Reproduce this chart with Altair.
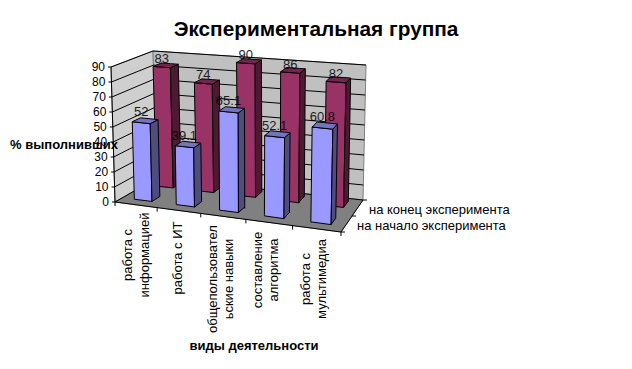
import altair as alt
import pandas as pd

# ---- data ----
title_text = "Экспериментальная группа"
start_values = [52, 39.1, 65.1, 52.1, 60.8]
end_values = [83, 74, 90, 86, 82]
start_labels = ["52", "39.1", "65.1", "52.1", "60.8"]
end_labels = ["83", "74", "90", "86", "82"]
y_ticks = [0, 10, 20, 30, 40, 50, 60, 70, 80, 90]
category_lines = [
    ["работа с", "информацией"],
    ["работа с ИТ"],
    ["общепользовател", "ьские навыки"],
    ["составление", "алгоритма"],
    ["работа с", "мультимедиа"],
]
series_names = ["на начало эксперимента", "на конец эксперимента"]
y_title = "% выполнивших"
x_title = "виды деятельности"

# ---- 3D box calibration (screen pixels) ----
F0, F1, B0, B1 = (115, 202), (341, 232), (157, 178), (363, 200)
F0t, F1t, B0t, B1t = (111, 67), (344, 89), (153, 51), (366, 65)
VMAX = 90.0
PERSP = 1.09


def lerp(a, b, t):
    return (a[0] + (b[0] - a[0]) * t, a[1] + (b[1] - a[1]) * t)


def P(u, d, v):
    u = u / (PERSP + (1 - PERSP) * u)
    bottom = lerp(lerp(F0, F1, u), lerp(B0, B1, u), d)
    top = lerp(lerp(F0t, F1t, u), lerp(B0t, B1t, u), d)
    return lerp(bottom, top, v / VMAX)


def poly_rows(pid, pts, fill):
    """Convex polygon -> area rows (x, y, y2), sorted by x."""
    xs = sorted({round(p[0], 2) for p in pts})
    n = len(pts)
    rows = []
    for x in xs:
        ys = []
        for i in range(n):
            a, b = pts[i], pts[(i + 1) % n]
            lo, hi = min(a[0], b[0]), max(a[0], b[0])
            if lo - 0.011 <= x <= hi + 0.011:
                if abs(b[0] - a[0]) < 1e-6:
                    ys += [a[1], b[1]]
                else:
                    ys.append(a[1] + (b[1] - a[1]) * (x - a[0]) / (b[0] - a[0]))
        rows.append(dict(pid=pid, x=x, y=min(ys), y2=max(ys), fill=fill))
    return rows


X = alt.X("x:Q", scale=alt.Scale(domain=[8, 624], nice=False, zero=False), axis=None)
Y = alt.Y("y:Q", scale=alt.Scale(domain=[361, 8], nice=False, zero=False), axis=None, stack=None)

# ---- walls and floor ----
bg = []
bg += poly_rows("left", [P(0, 0, 0), P(0, 0, VMAX), P(0, 1, VMAX), P(0, 1, 0)], "#CFCFCF")
bg += poly_rows("back", [P(0, 1, 0), P(0, 1, VMAX), P(1, 1, VMAX), P(1, 1, 0)], "#C0C0C0")
bg += poly_rows("floor", [P(0, 0, 0), P(0, 1, 0), P(1, 1, 0), P(1, 0, 0)], "#808080")

# ---- lines: grid, axes, ticks ----
lines = []


def seg(lid, *pts):
    for i, p in enumerate(pts):
        lines.append(dict(lid=lid, x=p[0], y=p[1], o=i))


for t in y_ticks:
    a, b, c = P(0, 0, t), P(0, 1, t), P(1, 1, t)
    seg(f"g{t}", a, b, c)
    seg(f"t{t}", (a[0] - 3, a[1]), a)
seg("axisY", P(0, 0, 0), P(0, 0, VMAX))
seg("axisX", P(0, 0, 0), P(1, 0, 0))
seg("axisZ", P(1, 0, 0), P(1, 1, 0))
for k in range(6):
    p = P(k / 5, 0, 0)
    seg(f"xt{k}", p, (p[0], p[1] + 4))
for k in range(3):
    p = P(1, k / 2, 0)
    seg(f"zt{k}", p, (p[0] + 4, p[1]))

# ---- bars ----
U0, BAR_W, CAT_W = 0.0575, 0.085, 0.2
DEPTHS = [(0.18, 0.38), (0.72, 0.92)]
COLORS = [("#9999FF", "#4D4D80", "#7373BF"), ("#993366", "#4D1933", "#73264D")]
LABEL_RISE = [11, 8]
bars = []
for s, vals in [(1, end_values), (0, start_values)]:
    d0, d1 = DEPTHS[s]
    front, side, top = COLORS[s]
    for i, v in enumerate(vals):
        u0 = U0 + i * CAT_W
        u1 = u0 + BAR_W
        bars += poly_rows(f"s{s}c{i}f", [P(u0, d0, 0), P(u0, d0, v), P(u1, d0, v), P(u1, d0, 0)], front)
        bars += poly_rows(f"s{s}c{i}s", [P(u1, d0, 0), P(u1, d0, v), P(u1, d1, v), P(u1, d1, 0)], side)
        bars += poly_rows(f"s{s}c{i}t", [P(u0, d0, v), P(u0, d1, v), P(u1, d1, v), P(u1, d0, v)], top)

# ---- texts ----
labels = []
for s, vals, txts in [(1, end_values, end_labels), (0, start_values, start_labels)]:
    d0 = DEPTHS[s][0]
    for i, (v, t) in enumerate(zip(vals, txts)):
        u = U0 + i * CAT_W + BAR_W / 2
        p = P(u, d0, v)
        labels.append(dict(x=p[0], y=p[1] - LABEL_RISE[s], text=t))

tick_text = []
for t in y_ticks:
    p = P(0, 0, t)
    tick_text.append(dict(x=p[0] - 6, y=p[1], text=str(t)))

cat_pos = [(128, 145), (178,), (213, 229), (258, 274), (306, 322)]
cat_center = [255, 258, 279, 270, 279]
cat_text = []
for lns, xs, yc in zip(category_lines, cat_pos, cat_center):
    for ln, x in zip(lns, xs):
        cat_text.append(dict(x=x, y=yc, text=ln))

plain_text = [
    dict(x=369, y=210, text=series_names[1]),
    dict(x=357, y=226, text=series_names[0]),
]
bold_text = [
    dict(x=64, y=145, text=y_title),
    dict(x=254, y=346, text=x_title),
]
FONT = "Liberation Sans"


def text_layer(rows, **kw):
    return (
        alt.Chart(pd.DataFrame(rows))
        .mark_text(font=FONT, color="black", **kw)
        .encode(x=X, y=Y, text="text:N")
    )


def area_layer(rows, **kw):
    return (
        alt.Chart(pd.DataFrame(rows))
        .mark_area(orient="vertical", **kw)
        .encode(x=X, y=Y, y2="y2:Q", detail="pid:N", fill=alt.Fill("fill:N", scale=None))
    )


chart = alt.layer(
    area_layer(bg, stroke="#808080", strokeWidth=1),
    alt.Chart(pd.DataFrame(lines))
    .mark_line(strokeWidth=1, color="black")
    .encode(x=X, y=Y, detail="lid:N", order="o:Q"),
    area_layer(bars, stroke="black", strokeWidth=1),
    text_layer(labels, fontSize=13, align="center", baseline="middle", opacity=0.85),
    text_layer(tick_text, fontSize=12, align="right", baseline="middle"),
    text_layer(cat_text, fontSize=13, align="center", baseline="middle", angle=270),
    text_layer(plain_text, fontSize=13, align="left", baseline="middle"),
    text_layer(bold_text, fontSize=13, fontWeight="bold", align="center", baseline="middle"),
    text_layer([dict(x=316, y=30, text=title_text)], fontSize=20.8, fontWeight="bold", align="center", baseline="middle"),
).properties(
    width=616,
    height=353,
    padding=0,
    autosize=alt.AutoSizeParams(type="none"),
).configure_view(stroke=None)

chart.save("out.html", embed_options={"renderer": "svg", "actions": False})
